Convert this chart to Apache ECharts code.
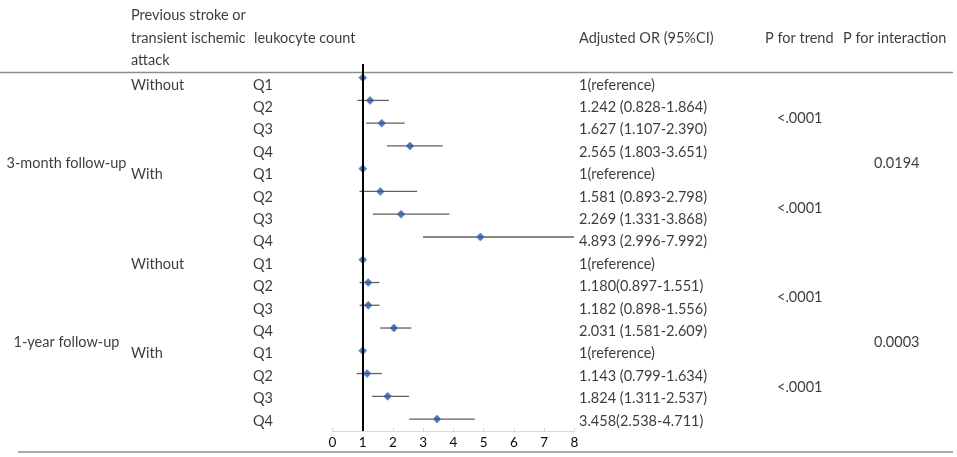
<!DOCTYPE html>
<html>
<head>
<meta charset="utf-8">
<script src="https://cdn.jsdelivr.net/npm/echarts@6/dist/echarts.min.js"></script>
<style>
  html, body { margin: 0; padding: 0; background: #fff; }
  #chart { width: 957px; height: 457px; }
</style>
</head>
<body>
<div id="chart"></div>
<script>
// rows, top to bottom
const periods = ['3-month follow-up', '1-year follow-up'];
const periodRows = [3.5, 11.5];
const groups = ['Without', 'With', 'Without', 'With'];
const groupRows = [0, 4, 8, 12];
const quartiles = ['Q1', 'Q2', 'Q3', 'Q4', 'Q1', 'Q2', 'Q3', 'Q4',
                   'Q1', 'Q2', 'Q3', 'Q4', 'Q1', 'Q2', 'Q3', 'Q4'];
const orValues = [1, 1.242, 1.627, 2.565, 1, 1.581, 2.269, 4.893,
                  1, 1.180, 1.182, 2.031, 1, 1.143, 1.824, 3.458];
const ciLower = [null, 0.828, 1.107, 1.803, null, 0.893, 1.331, 2.996,
                 null, 0.897, 0.898, 1.581, null, 0.799, 1.311, 2.538];
const ciUpper = [null, 1.864, 2.390, 3.651, null, 2.798, 3.868, 7.992,
                 null, 1.551, 1.556, 2.609, null, 1.634, 2.537, 4.711];
const orLabels = ['1(reference)', '1.242 (0.828-1.864)', '1.627 (1.107-2.390)', '2.565 (1.803-3.651)',
                  '1(reference)', '1.581 (0.893-2.798)', '2.269 (1.331-3.868)', '4.893 (2.996-7.992)',
                  '1(reference)', '1.180(0.897-1.551)', '1.182 (0.898-1.556)', '2.031 (1.581-2.609)',
                  '1(reference)', '1.143 (0.799-1.634)', '1.824 (1.311-2.537)', '3.458(2.538-4.711)'];
const pTrend = ['<.0001', '<.0001', '<.0001', '<.0001'];
const pTrendRows = [1.5, 5.5, 9.5, 13.5];
const pInteraction = ['0.0194', '0.0003'];
const pInteractionRows = [3.5, 11.5];
const headerLines = [
  ['Previous stroke or', 131, -3.125],
  ['transient ischemic', 131, -2.1],
  ['attack', 131, -1.12],
  ['leukocyte count', 254, -2.1],
  ['Adjusted OR (95%CI)', 579, -2.1],
  ['P for trend', 765, -2.1],
  ['P for interaction', 843, -2.1]
];
const xMin = 0, xMax = 8;

const FONT = 'Lato';
const TEXT_COLOR = '#0a0a0a';

// column x positions in the text grid (pixels)
const colPeriod = 66.5, colGroup = 131, colQ = 253, colOR = 579, colTrend = 777, colInter = 874;

const textData = [];
periods.forEach((t, i) => textData.push({ value: [colPeriod, periodRows[i]], name: t, align: 'center' }));
groups.forEach((t, i) => textData.push({ value: [colGroup, groupRows[i]], name: t }));
quartiles.forEach((t, i) => textData.push({ value: [colQ, i], name: t }));
orLabels.forEach((t, i) => textData.push({ value: [colOR, i], name: t }));
pTrend.forEach((t, i) => textData.push({ value: [colTrend, pTrendRows[i]], name: t }));
pInteraction.forEach((t, i) => textData.push({ value: [colInter, pInteractionRows[i]], name: t }));
headerLines.forEach(h => textData.push({ value: [h[1], h[2]], name: h[0] }));

const textItems = textData.map(d => ({
  value: d.value,
  name: d.name,
  label: { align: d.align || 'left' }
}));

const ciData = orValues.map((v, i) => [ciLower[i], ciUpper[i], i]).filter(d => d[0] != null);
const pointData = orValues.map((v, i) => [v, i]);

const chart = echarts.init(document.getElementById('chart'), null, { renderer: 'canvas' });

const option = {
  animation: false,
  backgroundColor: '#fff',
  grid: [
    // forest plot
    { left: 332.5, right: 382.7, top: 64, bottom: 26.1 },
    // text table (row i at y = 85 + 22.4 i)
    { left: 0, right: 0, top: 6.6, bottom: 2.4 }
  ],
  xAxis: [
    {
      gridIndex: 0, type: 'value', min: xMin, max: xMax, interval: 1,
      position: 'bottom',
      axisLine: { show: true, onZero: false, lineStyle: { color: '#d9d9d9', width: 1 } },
      axisTick: { show: true, inside: true, length: 3, lineStyle: { color: '#d9d9d9' } },
      axisLabel: { color: TEXT_COLOR, fontFamily: FONT, fontSize: 13.5, margin: 5 },
      splitLine: { show: false }
    },
    { gridIndex: 1, type: 'value', min: 0, max: 957, show: false }
  ],
  yAxis: [
    { gridIndex: 0, type: 'value', min: -0.6, max: 15.52, inverse: true, show: false },
    { gridIndex: 1, type: 'value', min: -3.5, max: 16.5, inverse: true, show: false }
  ],
  graphic: [
    { type: 'line', shape: { x1: 0, y1: 72.5, x2: 953, y2: 72.5 },
      style: { stroke: '#8c8c8c', lineWidth: 1.5 }, z: 0 },
    { type: 'line', shape: { x1: 18, y1: 452, x2: 953, y2: 452 },
      style: { stroke: '#8c8c8c', lineWidth: 1.5 }, z: 0 }
  ],
  series: [
    {
      name: 'CI',
      type: 'custom',
      xAxisIndex: 0, yAxisIndex: 0,
      silent: true,
      z: 2,
      data: ciData,
      renderItem: function (params, api) {
        const p1 = api.coord([api.value(0), api.value(2)]);
        const p2 = api.coord([api.value(1), api.value(2)]);
        return {
          type: 'line',
          shape: { x1: p1[0], y1: p1[1], x2: p2[0], y2: p2[1] },
          style: { stroke: '#5f5f5f', lineWidth: 1.3 }
        };
      },
      markLine: {
        silent: true,
        symbol: 'none',
        label: { show: false },
        lineStyle: { color: '#000', width: 2, type: 'solid' },
        data: [{ xAxis: 1 }]
      }
    },
    {
      name: 'OR',
      type: 'scatter',
      xAxisIndex: 0, yAxisIndex: 0,
      silent: true,
      z: 4,
      symbol: 'diamond',
      symbolSize: 8,
      itemStyle: { color: '#2b559f', borderColor: '#5a86cf', borderWidth: 0.8 },
      data: pointData
    },
    {
      name: 'table',
      type: 'scatter',
      xAxisIndex: 1, yAxisIndex: 1,
      silent: true,
      clip: false,
      symbolSize: 0.1,
      itemStyle: { color: 'transparent' },
      label: {
        show: true,
        position: 'inside',
        formatter: p => p.name,
        color: TEXT_COLOR,
        fontFamily: FONT,
        fontSize: 14.5,
        verticalAlign: 'middle'
      },
      data: textItems
    }
  ]
};

chart.setOption(option);
</script>
</body>
</html>
